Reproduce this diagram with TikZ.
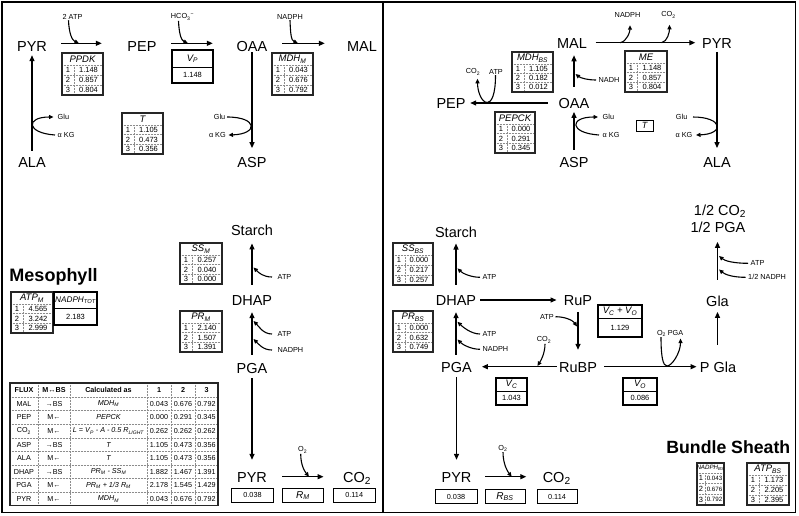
\documentclass[tikz,border=0pt]{standalone}
\usepackage{fontspec}
\setmainfont{Liberation Sans}
\usetikzlibrary{arrows.meta}
\newcommand\idxw{12}
\newcommand\hdh{12}
\tikzset{
  big/.style={font=\fontsize{14.5}{17}\selectfont, inner sep=0pt, text height=10.5pt, text depth=0pt},
  sm/.style={font=\fontsize{7.3}{8}\selectfont, inner sep=0.5pt},
  tv/.style={font=\fontsize{7.5}{8}\selectfont, inner sep=0pt},
  th/.style={font=\fontsize{9.5}{10}\selectfont\itshape, inner sep=0pt},
  ft/.style={font=\fontsize{7.2}{8}\selectfont, inner sep=0pt},
  tline/.style={line width=1.3pt, black!85},
  tdot/.style={line width=0.5pt, densely dotted, black!45},
  flow/.style={line width=1.3pt, -{Triangle[length=6pt,width=5pt]}},
  cofa/.style={line width=1.1pt, -{Triangle[length=4.5pt,width=4pt]}},
  box/.style={draw, line width=1pt, inner sep=0pt, minimum height=13.5pt, font=\fontsize{7.3}{8}\selectfont},
}
% table with header and three indexed rows
\newcommand{\dtab}[9]{%
  \pgfmathsetmacro\tya{#3+\hdh}%
  \pgfmathsetmacro\trh{(#5-#3-\hdh)/3}%
  \pgfmathsetmacro\tyb{\tya+\trh}%
  \pgfmathsetmacro\tyc{\tya+2*\trh}%
  \pgfmathsetmacro\txa{#2+\idxw}%
  \draw[tdot] (#2,\tya) -- (#4,\tya) (#2,\tyb) -- (#4,\tyb) (#2,\tyc) -- (#4,\tyc) (\txa,\tya) -- (\txa,#5);
  \draw[tline] (#2,#3) rectangle (#4,#5);
  \node[th] (#1-h) at ({(#2+#4)/2},{#3+\hdh/2}) {#6};
  \node[tv] (#1-i1) at ({(#2+\txa)/2},{\tya+\trh/2}) {1};
  \node[tv] (#1-i2) at ({(#2+\txa)/2},{\tyb+\trh/2}) {2};
  \node[tv] (#1-i3) at ({(#2+\txa)/2},{\tyc+\trh/2}) {3};
  \node[tv] (#1-v1) at ({(\txa+#4)/2},{\tya+\trh/2}) {#7};
  \node[tv] (#1-v2) at ({(\txa+#4)/2},{\tyb+\trh/2}) {#8};
  \node[tv] (#1-v3) at ({(\txa+#4)/2},{\tyc+\trh/2}) {#9};
}
% box with header and one value
\newcommand{\hvbox}[8]{%
  \draw[line width=1pt] (#2,#5) -- (#4,#5);
  \draw[line width=1.1pt] (#2,#3) rectangle (#4,#6);
  \node[th] (#1-h) at ({(#2+#4)/2},{(#3+#5)/2}) {#7};
  \node[tv] (#1-v) at ({(#2+#4)/2},{(#5+#6)/2}) {#8};
}
% row of the flux table
\newcommand{\frow}[8]{%
  \node[ft] (fr#1a) at (24,#2) {#3};
  \node[ft] (fr#1b) at (54,#2) {#4};
  \node[ft,font=\fontsize{7.2}{8}\selectfont\itshape] (fr#1c) at (108.5,#2) {#5};
  \node[ft] (fr#1d) at (159,#2) {#6};
  \node[ft] (fr#1e) at (183,#2) {#7};
  \node[ft] (fr#1f) at (206.5,#2) {#8};
}
\begin{document}
\begin{tikzpicture}[x=1pt,y=-1pt]
\useasboundingbox (0,0) rectangle (799,515);
\fill[white] (0,0) rectangle (799,515);
\draw[line width=1.2pt] (2,2) rectangle (795.5,512.3);
\draw[line width=1.2pt] (383,2) -- (383,512.3);

%% ===== LEFT PANEL (Mesophyll) =====
\node[big] (PYRm) at (32,46) {PYR};
\node[big] (PEPm) at (142,46) {PEP};
\node[big] (OAAm) at (252,46) {OAA};
\node[big] (MALm) at (362,46) {MAL};
\node[big] (ALAm) at (32,162) {ALA};
\node[big] (ASPm) at (252,162) {ASP};

\draw[flow, shorten <=5.75pt, shorten >=3.75pt] (ALAm.north) -- (PYRm.south);
\draw[flow, shorten <=14.1pt, shorten >=25.5pt] ([yshift=2.7pt]PYRm.east) -- ([yshift=2.7pt]PEPm.west);
\draw[flow, shorten <=14.5pt, shorten >=23.7pt] ([yshift=2.7pt]PEPm.east) -- ([yshift=2.7pt]OAAm.west);
\draw[flow, shorten <=14.7pt, shorten >=22.1pt] ([yshift=2.7pt]OAAm.east) -- ([yshift=2.7pt]MALm.west);
\draw[flow, shorten <=0.75pt, shorten >=8.45pt] (OAAm.south) -- (ASPm.north);

\node[sm] (atp2) at (72.5,17) {2 ATP};
\coordinate (k1) at (79,43.3);
\draw[cofa] ([xshift=-4pt]atp2.south) .. controls +(0.5,13) and +(-7,-3) .. (k1);
\node[sm] (hco3) at (182.5,17) {HCO\textsubscript{3}\textsuperscript{−}};
\coordinate (k2) at (188,43.3);
\draw[cofa] ([xshift=-4pt]hco3.south) .. controls +(0.5,12) and +(-7,-3) .. (k2);
\node[sm] (nad1) at (290,17) {NADPH};
\coordinate (k3) at (298,43.3);
\draw[cofa] (nad1.south) .. controls +(0.5,13) and +(-7,-3) .. (k3);

\node[sm,anchor=west] (glu1) at (57,117) {Glu};
\node[sm,anchor=west] (akg1) at (57,135) {α KG};
\draw[cofa] ([xshift=-2pt]akg1.west) .. controls +(-29,-2) and +(-28,0) .. ([xshift=-3.5pt]glu1.west);
\node[sm,anchor=east] (glu2) at (226,117) {Glu};
\node[sm,anchor=east] (akg2) at (226.5,135) {α KG};
\draw[cofa] ([xshift=1pt]glu2.east) .. controls +(31,0) and +(30,-1) .. ([xshift=2pt]akg2.east);

\dtab{ppdk}{62}{53}{103}{95}{PPDK}{1.148}{0.857}{0.804}
\hvbox{vp}{172}{50}{213}{67}{83}{V\textsubscript{P}}{1.148}
\dtab{mdhm}{272}{53}{313}{95}{MDH\textsubscript{M}}{0.043}{0.676}{0.792}
\dtab{tm}{122}{113}{163}{154}{T}{1.105}{0.473}{0.356}

\node[big] (STm) at (252,230) {Starch};
\node[big] (DHAPm) at (252,300) {DHAP};
\node[big] (PGAm) at (252,368) {PGA};
\node[big] (PYRm2) at (252,477.5) {PYR};
\node[big] (CO2m) at (357,477.5) {CO\textsubscript{2}};

\draw[flow, shorten <=9.75pt, shorten >=8pt] (DHAPm.north) -- (STm.south);
\draw[flow, shorten <=7.75pt, shorten >=6.75pt] (PGAm.north) -- (DHAPm.south);
\draw[flow, shorten <=4.75pt, shorten >=12.25pt] (PGAm.south) -- (PYRm2.north);
\draw[flow, shorten <=15.1pt, shorten >=19.3pt] ([yshift=0.8pt]PYRm2.east) -- ([yshift=0.8pt]CO2m.west);

\node[sm,anchor=west] (atps1) at (277,277) {ATP};
\coordinate (k5) at (253.5,267.5);
\draw[cofa] ([xshift=-5pt]atps1.west) .. controls +(-9,0) and +(5,5) .. (k5);
\node[sm,anchor=west] (atpp1) at (277,334) {ATP};
\coordinate (k6) at (253.5,321);
\draw[cofa] ([xshift=-5pt]atpp1.west) .. controls +(-9,0) and +(5,5) .. (k6);
\node[sm,anchor=west] (nadp1) at (277,350) {NADPH};
\coordinate (k7) at (253.5,339);
\draw[cofa] ([xshift=-5pt]nadp1.west) .. controls +(-9,0) and +(5,5) .. (k7);
\node[sm] (o2m) at (302.7,450) {O\textsubscript{2}};
\coordinate (k4) at (309,476.7);
\draw[cofa] ([xshift=-2pt]o2m.south) .. controls +(0,12) and +(-4,-5) .. (k4);

\dtab{ssm}{180}{243}{222}{284}{SS\textsubscript{M}}{0.257}{0.040}{0.000}
\dtab{prm}{180}{311}{222}{352}{PR\textsubscript{M}}{2.140}{1.507}{1.391}

\node[font=\fontsize{18}{20}\selectfont\bfseries, inner sep=0pt] (meso) at (53.5,277) {Mesophyll};
\dtab{atpm}{11}{292}{53}{333}{ATP\textsubscript{M}}{4.565}{3.242}{2.999}
\hvbox{nadt}{54}{292}{97}{308}{325}{\fontsize{8.2}{9}\selectfont NADPH\textsubscript{TOT}}{2.183}

\node[box, minimum width=41.6pt] (bm1) at (252.5,495.3) {0.038};
\node[box, minimum width=40.6pt, font=\fontsize{10}{11}\selectfont\itshape] (bm2) at (303,495.3) {R\textsubscript{M}};
\node[box, minimum width=41.7pt] (bm3) at (354.2,495.3) {0.114};

% flux table
\foreach \i in {0,...,7} { \draw[tdot] (10,{397+\i*13.6}) -- (218,{397+\i*13.6}); }
\foreach \xx in {38,70,147,171,195} { \draw[tdot] (\xx,383) -- (\xx,505.8); }
\draw[tline] (10,383) rectangle (218,505.8);
\begin{scope}[every node/.append style={font=\fontsize{7.2}{8}\selectfont\bfseries, inner sep=0pt}]
\node (fh1) at (24,390) {FLUX};
\node (fh2) at (54,390) {M↔BS};
\node (fh3) at (108.5,390) {Calculated as};
\node (fh4) at (159,390) {1};
\node (fh5) at (183,390) {2};
\node (fh6) at (206.5,390) {3};
\end{scope}
\frow{1}{403.8}{MAL}{→BS}{MDH\textsubscript{M}}{0.043}{0.676}{0.792}
\frow{2}{417.4}{PEP}{M←}{PEPCK}{0.000}{0.291}{0.345}
\frow{3}{431.0}{CO\textsubscript{2}}{M←}{L = V\textsubscript{P} - A - 0.5 R\textsubscript{LIGHT}}{0.262}{0.262}{0.262}
\frow{4}{444.6}{ASP}{→BS}{T}{1.105}{0.473}{0.356}
\frow{5}{458.2}{ALA}{M←}{T}{1.105}{0.473}{0.356}
\frow{6}{471.8}{DHAP}{→BS}{PR\textsubscript{M} - SS\textsubscript{M}}{1.882}{1.467}{1.391}
\frow{7}{485.4}{PGA}{M←}{PR\textsubscript{M} + 1/3 R\textsubscript{M}}{2.178}{1.545}{1.429}
\frow{8}{499.0}{PYR}{M←}{MDH\textsubscript{M}}{0.043}{0.676}{0.792}

%% ===== RIGHT PANEL (Bundle Sheath) =====
\node[big] (MALr) at (572,43.3) {MAL};
\node[big] (PYRr) at (717,43.3) {PYR};
\node[big] (OAAr) at (574,103) {OAA};
\node[big] (PEPr) at (451,103) {PEP};
\node[big] (ASPr) at (574,162.5) {ASP};
\node[big] (ALAr) at (717,162.5) {ALA};

\draw[flow, shorten <=8.6pt, shorten >=6.6pt] ([yshift=0.6pt]MALr.east) -- ([yshift=0.6pt]PYRr.west);
\draw[flow, shorten <=11pt, shorten >=6.5pt] (OAAr.north) -- (OAAr.north |- MALr.south);
\draw[flow, shorten <=7.25pt, shorten >=3.5pt] (ASPr.north) -- (OAAr.south);
\draw[flow, shorten <=10.7pt, shorten >=4.5pt] (OAAr.west) -- (PEPr.east);
\draw[flow, shorten <=3.2pt, shorten >=9pt] (PYRr.south) -- (ALAr.north);

\node[sm] (nadr) at (627.5,15) {NADPH};
\node[sm] (co2r1) at (668.5,15) {CO\textsubscript{2}};
\coordinate (k8) at (620,42.7);
\coordinate (k9) at (661.5,42.7);
\draw[cofa, shorten >=7pt] (k8) .. controls +(7,-1) and +(0,13) .. ([xshift=2.5pt]nadr.south);
\draw[cofa, shorten >=6pt] (k9) .. controls +(6,-1) and +(0,13) .. ([xshift=1pt]co2r1.south);
\node[sm,anchor=west] (nadh) at (598,80) {NADH};
\coordinate (k10) at (575.5,74);
\draw[cofa] ([xshift=-2pt]nadh.west) .. controls +(-8,0) and +(5,4) .. (k10);

\node[sm] (co2r2) at (473,72) {CO\textsubscript{2}};
\node[sm] (atpr2) at (496,72) {ATP};
\coordinate (k11) at (487.3,102.5);
\draw[cofa, shorten >=3pt] ([xshift=-0.5pt]atpr2.south) .. controls +(0,20) and +(4,0) .. (k11) .. controls +(-6,0) and +(0,15) .. ([xshift=4.5pt]co2r2.south);

\node[sm,anchor=west] (glur1) at (602,117) {Glu};
\node[sm,anchor=west] (akgr1) at (602,135) {α KG};
\draw[cofa] ([xshift=-3pt]akgr1.west) .. controls +(-30,-2) and +(-29,0) .. ([xshift=-4pt]glur1.west);
\node[sm,anchor=east] (glur2) at (688,117) {Glu};
\node[sm,anchor=east] (akgr2) at (693,135) {α KG};
\draw[cofa] ([xshift=5pt]glur2.east) .. controls +(30,0) and +(29,-1) .. ([xshift=3pt]akgr2.east);
\node[draw, line width=1pt, minimum width=17pt, minimum height=11pt, inner sep=0pt, font=\fontsize{9}{10}\selectfont\itshape] (tr) at (644.7,125.5) {T};

\dtab{mdhbs}{512}{52}{553}{92}{MDH\textsubscript{BS}}{1.105}{0.182}{0.012}
\dtab{me}{625}{51}{667}{92}{ME}{1.148}{0.857}{0.804}
\dtab{pepck}{495}{112}{535}{153}{PEPCK}{0.000}{0.291}{0.345}

\node[big] (CO2h) at (720,210) {1/2 CO\textsubscript{2}};
\node[big] (PGAh) at (718,227) {1/2 PGA};
\node[big] (Gla) at (717.5,301.5) {Gla};
\node[big] (PGla) at (718,367.5) {P Gla};
\node[big] (DHAPr) at (456,300) {DHAP};
\node[big] (RuP) at (578,300) {RuP};
\node[big] (RuBP) at (578,367.5) {RuBP};
\node[big] (PGAr) at (456.5,367.5) {PGA};
\node[big] (STr) at (456,232) {Starch};
\node[big] (PYRr2) at (456.5,477.5) {PYR};
\node[big] (CO2r) at (556.7,477.5) {CO\textsubscript{2}};

\draw[flow, shorten <=16.25pt, shorten >=9.45pt] (Gla.north) -- (Gla.north |- PGAh.south);
\draw[flow, shorten <=17.25pt, shorten >=4.95pt] (Gla.south |- PGla.north) -- (Gla.south);
\draw[flow, shorten <=3.85pt, shorten >=7.2pt] (DHAPr.east) -- (RuP.west);
\draw[flow, shorten <=6.45pt, shorten >=12.25pt] (RuP.south) -- (RuBP.north);
\draw[flow, shorten <=2.35pt, shorten >=9.9pt] ([yshift=0.8pt]RuBP.west) -- ([yshift=0.8pt]PGAr.east);
\draw[flow, shorten <=7pt, shorten >=3.15pt] ([yshift=0.8pt]RuBP.east) -- ([yshift=0.8pt]PGla.west);
\draw[flow, shorten <=9.75pt, shorten >=6.05pt] (DHAPr.north) -- (STr.south);
\draw[flow, shorten <=7.25pt, shorten >=6.75pt] (DHAPr.south |- PGAr.north) -- (DHAPr.south);
\draw[flow, shorten <=4pt, shorten >=12.25pt] (PGAr.south) -- (PYRr2.north);
\draw[flow, shorten <=13.6pt, shorten >=16.3pt] ([yshift=0.8pt]PYRr2.east) -- ([yshift=0.8pt]CO2r.west);

\node[sm,anchor=west] (atpg) at (750,263.3) {ATP};
\coordinate (k12) at (719,256);
\draw[cofa] ([xshift=-2pt]atpg.west) .. controls +(-14,0) and +(6,5) .. (k12);
\node[sm,anchor=west] (nadg) at (747.5,277.3) {1/2 NADPH};
\coordinate (k13) at (719,269.5);
\draw[cofa] ([xshift=-2pt]nadg.west) .. controls +(-13,0) and +(6,5) .. (k13);

\node[sm,anchor=east] (atpru) at (554.5,316.7) {ATP};
\coordinate (k14) at (577,326.5);
\draw[cofa] ([xshift=1pt]atpru.east) .. controls +(10,0) and +(-4,-6) .. (k14);
\node[sm] (co2ru) at (544,340) {CO\textsubscript{2}};
\coordinate (k15) at (537.5,366);
\draw[cofa] ([xshift=1pt]co2ru.south) .. controls +(0,10) and +(3,-5) .. (k15);

\node[sm] (o2pg) at (661.5,333.3) {O\textsubscript{2}};
\node[sm] (pgapg) at (675.5,333.3) {PGA};
\coordinate (k16) at (667,366);
\draw[cofa, shorten >=2pt] ([xshift=-0.5pt]o2pg.south) .. controls +(0,20) and +(-4,0) .. (k16) .. controls +(5,0) and +(0,16) .. ([xshift=5pt]pgapg.south);

\node[sm,anchor=west] (atps2) at (482,277.3) {ATP};
\coordinate (k17) at (457.5,268.3);
\draw[cofa] ([xshift=-2pt]atps2.west) .. controls +(-9,0) and +(5,5) .. (k17);
\node[sm,anchor=west] (atpp2) at (482,334) {ATP};
\coordinate (k18) at (457.5,321.7);
\draw[cofa] ([xshift=-2pt]atpp2.west) .. controls +(-9,0) and +(5,5) .. (k18);
\node[sm,anchor=west] (nadp2) at (482,349.3) {NADPH};
\coordinate (k19) at (457.5,339.5);
\draw[cofa] ([xshift=-2pt]nadp2.west) .. controls +(-9,0) and +(5,5) .. (k19);

\node[sm] (o2r) at (503,448.3) {O\textsubscript{2}};
\coordinate (k20) at (511.7,476.7);
\draw[cofa] (o2r.south) .. controls +(0,12) and +(-4,-5) .. (k20);

\dtab{ssbs}{393}{243}{433}{285}{SS\textsubscript{BS}}{0.000}{0.217}{0.257}
\dtab{prbs}{393}{311}{433}{352}{PR\textsubscript{BS}}{0.000}{0.632}{0.749}

\hvbox{vcvo}{598}{305}{642}{318}{337}{V\textsubscript{C} + V\textsubscript{O}}{1.129}
\hvbox{vc}{496}{378}{527}{391}{405}{V\textsubscript{C}}{1.043}
\hvbox{vo}{623}{378}{657}{391}{405}{V\textsubscript{O}}{0.086}

\node[box, minimum width=42pt] (bb1) at (456,496.5) {0.038};
\node[box, minimum width=40pt, font=\fontsize{10}{11}\selectfont\itshape] (bb2) at (505,496.5) {R\textsubscript{BS}};
\node[box, minimum width=40pt] (bb3) at (557,496.5) {0.114};

\node[font=\fontsize{17.7}{20}\selectfont\bfseries, inner sep=0pt] (bs) at (728.3,446.7) {Bundle Sheath};
\dtab{atpbs}{747}{463}{789}{505}{ATP\textsubscript{BS}}{1.173}{2.205}{2.395}
\renewcommand\idxw{8}\renewcommand\hdh{10}
\dtab{nadbs}{697}{463}{724}{505}{\fontsize{6.2}{7}\selectfont NADPH\textsubscript{BS}}{\fontsize{6.2}{7}\selectfont 0.043}{\fontsize{6.2}{7}\selectfont 0.676}{\fontsize{6.2}{7}\selectfont 0.792}
\end{tikzpicture}
\end{document}
